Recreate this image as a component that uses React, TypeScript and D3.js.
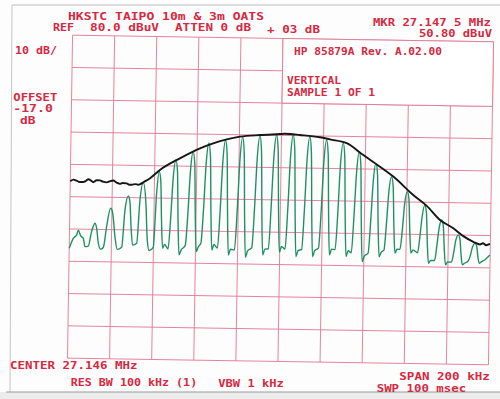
import React from 'react';
import * as d3 from 'd3';

// frequency offset (kHz) from start 27.046 MHz; level in dBuV
const gridFreqKHz = [0, 20, 40, 60, 80, 100, 120, 140, 160, 180, 200];
const gridLevels = [80, 70, 60, 50, 40, 30, 20, 10, 0, -10, -20];

const blackTrace: [number, number][] = [
  [0, 34.8], [1.5, 35.3], [3.0, 35.0], [4.5, 34.6], [6.2, 34.6], [7.5, 35.0], [8.6, 35.5],
  [10, 35.0], [10.9, 34.6], [12.5, 35.2], [14.1, 35.2], [15.5, 34.8], [17.3, 34.6], [19, 35.0],
  [20.4, 35.2], [22, 34.6], [23.6, 34.2], [25, 34.5], [26.8, 34.4], [28, 34.0], [29.2, 34.0],
  [31, 34.2], [32.3, 34.0], [33.5, 34.3], [34.7, 34.8], [37.9, 36.1], [42.5, 38.7], [51.9, 42.4],
  [61.4, 45.6], [67.6, 47.2], [74.0, 48.5], [80.3, 49.4], [89.8, 50.0], [99.3, 50.4], [101.5, 50.5],
  [108.8, 50.2], [118.3, 49.6], [123, 49.0], [131, 47.9], [139, 44.3], [147, 40.8], [153.4, 37.8],
  [163, 32.2], [169.5, 28.9], [175.9, 24.6], [182.3, 22.1], [187.1, 19.7], [191.9, 18.0],
  [195.1, 17.2], [196.5, 17.6], [198, 17.0], [199.8, 17.4],
];

const greenTrace: [number, number][] = [
  [0.0, 14.0], [1.85, 17.1], [3.44, 18.2], [4.2, 19.7], [5.35, 17.9], [6.6, 17.2], [7.47, 14.6],
  [9.03, 14.8], [10.5, 19.3], [12.05, 21.9], [12.9, 20.3], [13.8, 15.7], [14.95, 13.9], [16.2, 14.5],
  [17.6, 20.9], [19.4, 26.6], [20.4, 25.1], [21.65, 17.8], [22.8, 13.9], [24.9, 14.6], [26.2, 26.1],
  [27.7, 30.5], [28.5, 28.7], [29.2, 21.0], [30.1, 15.3], [32.0, 15.9], [33.25, 29.3], [34.7, 34.7],
  [36.1, 28.3], [37.0, 17.0], [38.0, 13.7], [39.9, 14.7], [41.1, 31.5], [42.2, 38.2],
  [43.0, 35.4], [43.65, 22.8], [44.35, 14.5], [45.3, 15.7],
  [46.95, 14.3], [47.95, 23.7], [48.85, 36.0], [50.05, 41.9], [50.85, 38.4], [51.5, 22.8], [52.2, 12.5], [53.15, 14.0],
  [55.1, 15.5], [56.1, 25.3], [57.0, 38.3], [58.2, 44.5], [59.0, 40.8], [59.65, 24.4], [60.35, 13.6], [61.3, 15.1],
  [62.5, 16.2], [63.5, 26.7], [64.4, 40.6], [65.6, 47.2], [66.4, 43.2], [67.05, 25.75], [67.75, 14.2], [68.7, 15.9],
  [70.4, 14.8], [71.4, 26.2], [72.3, 41.2], [73.5, 48.3], [74.3, 44.0], [74.95, 25.2], [75.65, 12.7], [76.6, 14.5],
  [78.5, 14.3], [79.5, 26.2], [80.4, 41.8], [81.6, 49.2], [82.4, 44.7], [83.05, 25.1], [83.75, 12.1], [84.7, 14.0],
  [86.7, 15.1], [87.7, 26.9], [88.6, 42.3], [89.8, 49.7], [90.6, 45.3], [91.25, 25.8], [91.95, 12.9], [92.9, 14.7],
  [94.6, 14.8], [95.6, 27.6], [96.5, 42.8], [97.7, 50.1], [98.5, 45.7], [99.15, 26.5], [99.85, 13.8], [100.8, 15.6],
  [102.5, 14.8], [103.5, 26.8], [104.4, 42.7], [105.6, 50.2], [106.4, 45.7], [107.05, 25.7], [107.75, 12.5], [108.7, 14.4],
  [110.4, 14.8], [111.4, 26.7], [112.3, 42.3], [113.5, 49.7], [114.3, 45.2], [114.95, 25.6], [115.65, 12.6], [116.6, 14.5],
  [118.4, 15.3], [119.4, 26.7], [120.3, 41.7], [121.5, 48.8], [122.3, 44.5], [122.95, 25.7], [123.65, 13.2], [124.6, 15.0],
  [126.3, 14.9], [127.3, 26.1], [128.2, 40.9], [129.4, 47.9], [130.2, 43.7], [130.85, 25.1], [131.55, 12.8], [132.5, 14.6],
  [134.0, 14.0], [135.0, 25.0], [135.9, 38.5], [137.1, 45.3], [137.9, 41.2], [138.55, 23.2], [139.25, 11.3], [140.2, 13.0],
  [142.0, 14.0], [143.0, 23.9], [143.9, 36.0], [145.1, 41.8], [145.9, 38.3], [146.55, 23.0], [147.25, 12.9], [148.2, 14.3],
  [149.5, 15.0], [150.5, 23.1], [151.4, 33.0], [152.6, 37.7], [153.4, 34.9], [154.05, 22.4], [154.75, 14.1], [155.7, 15.3],
  [157.1, 15.3], [158.1, 21.4], [159.0, 29.4], [160.2, 33.2], [161.0, 30.9], [161.65, 20.85], [162.35, 14.2], [163.3, 15.2],
  [165.5, 14.3], [166.5, 19.5], [167.4, 25.5], [168.6, 29.1], [169.4, 26.9], [170.05, 17.4], [170.75, 11.1], [171.7, 12.0],
  [173.6, 12.0], [174.6, 16.5], [175.5, 21.8], [176.7, 24.6], [177.5, 22.9], [178.15, 15.6], [178.85, 10.7], [179.8, 11.6],
  [181.6, 11.6], [182.6, 14.3], [183.5, 18.2], [184.7, 20.0], [185.5, 18.9], [186.15, 14.0], [186.85, 10.8], [187.8, 11.3],
  [189.6, 12.0], [190.6, 13.7], [191.5, 16.3], [192.7, 17.5], [193.5, 16.8], [194.15, 13.5], [194.85, 11.4], [195.8, 11.8],
  [197.5, 12.5], [199.9, 14.0],
];

// annotation texts: [text, x, baseline, length, size]
const labels: [string, number, number, number, number][] = [
  ['HKSTC TAIPO 10m & 3m OATS', 68, 20, 196, 10.5],
  ['REF', 53, 30.5, 21, 10.5],
  ['80.0 dBuV', 90, 30.8, 69, 10.5],
  ['ATTEN 0 dB', 175, 31.2, 76, 10.5],
  ['+ 03 dB', 267, 33.3, 53, 10.5],
  ['MKR 27.147 5 MHz', 373, 26, 118, 10.5],
  ['50.80 dBuV', 419, 37.3, 73, 10.5],
  ['HP 85879A Rev. A.02.00', 294, 55, 148, 10],
  ['VERTICAL', 287, 84, 54, 10],
  ['SAMPLE 1 OF 1', 287, 95.7, 88, 10],
  ['10 dB/', 15, 53.5, 42, 10.5],
  ['OFFSET', 13.3, 100.7, 44, 10.5],
  ['-17.0', 13.3, 112.3, 39.5, 10.5],
  ['dB', 20, 124, 15.5, 10.5],
  ['CENTER 27.146 MHz', 10, 369.3, 127.5, 10.5],
  ['RES BW 100 kHz (1)', 70.7, 385.7, 126.5, 10.5],
  ['VBW 1 kHz', 218.3, 386.6, 65.5, 10.5],
  ['SPAN 200 kHz', 399.3, 380, 90.5, 10.5],
  ['SWP 100 msec', 376.7, 392, 89.5, 10.5],
];

const RED = '#d6283f';
const GRID = '#e07892';

export default function App() {
  const x = d3.scaleLinear().domain([0, 200]).range([70, 491]);
  const y = d3.scaleLinear().domain([80, -20]).range([38, 361]);
  const line = d3
    .line<[number, number]>()
    .x((d) => x(d[0]))
    .y((d) => y(d[1]))
    .curve(d3.curveMonotoneX);

  const x0 = x(0), x1 = x(200), y0 = y(80), y1 = y(-20);
  const boxX = x(100), boxY = y(80), boxW = x(200) - x(100), boxH = y(60) - y(80);

  return (
    <svg
      width={500}
      height={399}
      style={{ position: 'absolute', left: 0, top: 0, background: '#fff' }}
    >
      <rect x={0} y={0} width={500} height={399} fill="#fdfdfd" />
      <rect x={0} y={392} width={500} height={7} fill="#ececec" />
      <line x1={12} y1={5} x2={500} y2={5} stroke="#bdbdbd" strokeWidth={1} />
      <line x1={12} y1={5} x2={10} y2={392} stroke="#c4c4c4" strokeWidth={1} />
      <line x1={6} y1={392} x2={500} y2={392} stroke="#9a9a9a" strokeWidth={1} />
      <g transform="rotate(0.9 250 200)">
        {gridFreqKHz.map((f) => (
          <line key={'v' + f} x1={x(f)} x2={x(f)} y1={y0} y2={y1} stroke={GRID} strokeWidth={0.9} />
        ))}
        {gridLevels.map((l) => (
          <line key={'h' + l} x1={x0} x2={x1} y1={y(l)} y2={y(l)} stroke={GRID} strokeWidth={0.9} />
        ))}
        <rect x={boxX} y={boxY} width={boxW} height={boxH} fill="#fff" stroke={GRID} strokeWidth={0.9} />
        <path d={line(greenTrace) || ''} fill="none" stroke="#1f9066" strokeWidth={1.4} />
        <path d={line(blackTrace) || ''} fill="none" stroke="#161616" strokeWidth={1.9} />
      </g>
      <g fontFamily="'DejaVu Sans Mono', monospace" fontWeight="bold" fill={RED}>
        {labels.map(([t, lx, ly, len, fs]) => (
          <text
            key={t}
            x={lx}
            y={ly}
            fontSize={fs}
            textLength={len}
            lengthAdjust="spacingAndGlyphs"
            style={{ whiteSpace: 'pre' }}
          >
            {t}
          </text>
        ))}
      </g>
    </svg>
  );
}
